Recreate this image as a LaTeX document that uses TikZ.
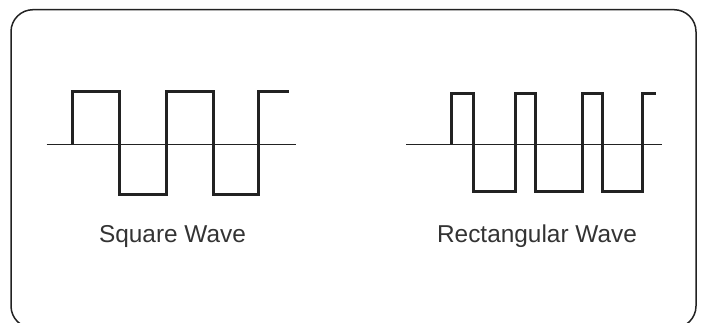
\documentclass[tikz,border=0pt]{standalone}
\usepackage{fontspec}
\setmainfont{Liberation Sans}
\definecolor{ink}{HTML}{222222}
\definecolor{txt}{HTML}{333333}
\tikzset{
  wave/.style={line width=3pt, ink, line join=miter},
  axis/.style={line width=1.4pt, ink},
  frame/.style={line width=1.5pt, ink, rounded corners=22pt},
  label/.style={font=\fontsize{24.4}{28}\selectfont, text=txt, inner sep=0pt, anchor=base}
}
\begin{document}
\begin{tikzpicture}[x=1pt,y=-1pt]
\useasboundingbox (0,0) rectangle (701,323);
\begin{scope}
\clip (0,0) rectangle (701,323);
\draw[frame] (11,9.7) rectangle (696,328);
\end{scope}
% Square wave
\draw[axis] (46.7,144.7) -- (295.7,144.7);
\draw[wave] (72.7,144.7) -- (72.7,91.7) -- (119.3,91.7) -- (119.3,194.3) -- (166,194.3) -- (166,91.7) -- (213.3,91.7) -- (213.3,194.3) -- (258.7,194.3) -- (258.7,91.7) -- (289.3,91.7);
% Rectangular wave
\draw[axis] (406,144.7) -- (661.7,144.7);
\draw[wave] (451.7,144.7) -- (451.7,93.3) -- (473.7,93.3) -- (473.7,191.7) -- (515.7,191.7) -- (515.7,93.3) -- (535.7,93.3) -- (535.7,191.7) -- (582.3,191.7) -- (582.3,93.3) -- (602.3,93.3) -- (602.3,191.7) -- (642.7,191.7) -- (642.7,93.3) -- (655.7,93.3);
\node[label] (sq) at (172.5,242.5) {Square Wave};
\node[label] (rect) at (537,242.5) {Rectangular Wave};
\end{tikzpicture}
\end{document}
